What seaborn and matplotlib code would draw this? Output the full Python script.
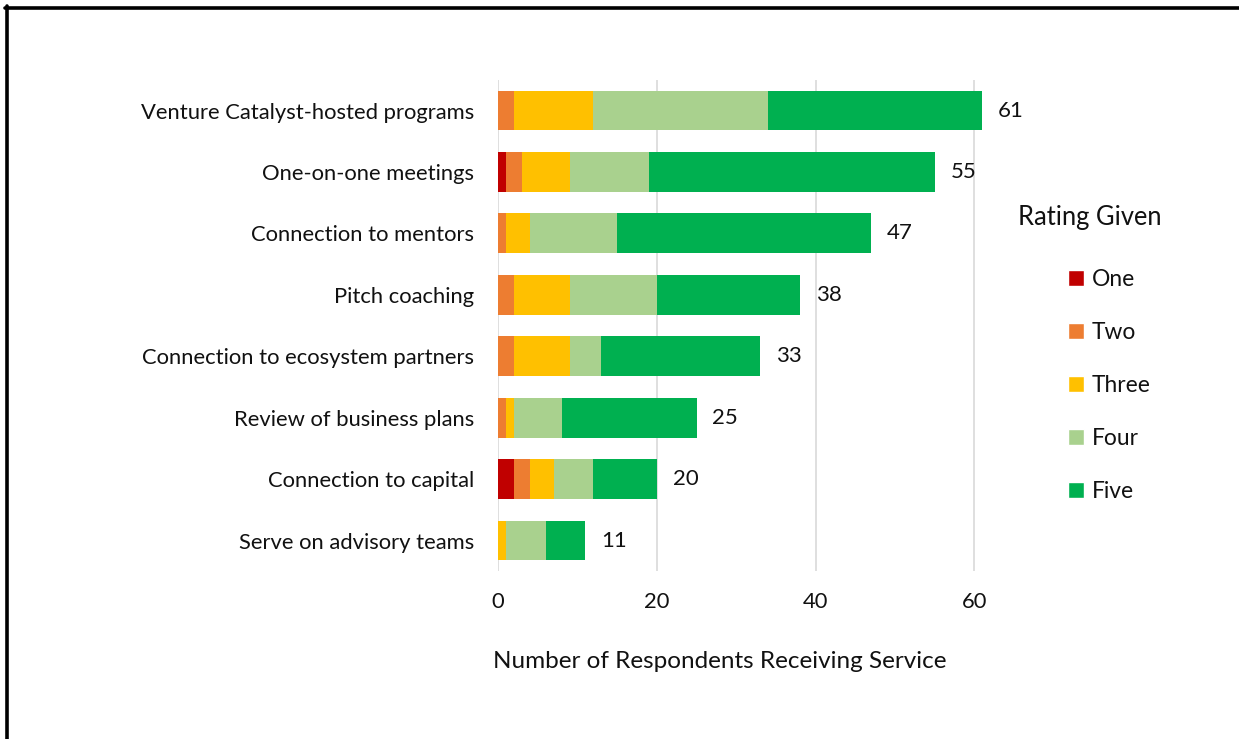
import numpy as np
import pandas as pd
import matplotlib.pyplot as plt
import seaborn as sns
from matplotlib.patches import Patch
from matplotlib.lines import Line2D

# services and ratings
services = ["Venture Catalyst-hosted programs", "One-on-one meetings",
            "Connection to mentors", "Pitch coaching",
            "Connection to ecosystem partners", "Review of business plans",
            "Connection to capital", "Serve on advisory teams"]
ratings = ["One", "Two", "Three", "Four", "Five"]
one = [0, 1, 0, 0, 0, 0, 2, 0]
two = [2, 2, 1, 2, 2, 1, 2, 0]
three = [10, 6, 3, 7, 7, 1, 3, 1]
four = [22, 10, 11, 11, 4, 6, 5, 5]
five = [27, 36, 32, 18, 20, 17, 8, 5]
colors = ["#C00000", "#ED7D31", "#FFC000", "#A9D18E", "#00B050"]

sns.set_style("whitegrid")
plt.rcParams["font.family"] = ["Lato", "DejaVu Sans"]

df = pd.DataFrame({"service": services, "One": one, "Two": two,
                   "Three": three, "Four": four, "Five": five})
cum = df[ratings].cumsum(axis=1)
totals = cum["Five"]

fig = plt.figure(figsize=(12.39, 7.39), dpi=100)
ax = fig.add_axes([0.402, 0.227, 0.41, 0.665])

# overlay cumulative bars from longest to shortest to get the stacking
for r, c in reversed(list(zip(ratings, colors))):
    sns.barplot(x=cum[r], y=df["service"], color=c, width=0.65,
                saturation=1, ax=ax, linewidth=0)

for i, t in enumerate(totals):
    ax.text(t + 2.0, i, str(t), va="center", ha="left", fontsize=16,
            color="#111111")

ax.set_xlim(0, 64)
ax.set_xticks([0, 20, 40, 60])
ax.set_ylabel("")
ax.set_xlabel("Number of Respondents Receiving Service", fontsize=17.5,
              color="#111111")
ax.xaxis.set_label_coords(0.437, -0.163)
ax.tick_params(axis="y", labelsize=15.8, length=0, pad=17, labelcolor="#111111")
ax.tick_params(axis="x", labelsize=15.8, length=0, pad=15, labelcolor="#111111")
ax.grid(axis="x", color="#d9d9d9", linewidth=1.2)
ax.grid(axis="y", visible=False)
for s in ax.spines.values():
    s.set_visible(False)

# legend title drawn on its own so the entries can sit further right
fig.text(1018 / 1239, 1 - 217 / 739, "Rating Given", fontsize=18.4,
         va="center", ha="left", color="#111111")
handles = [Patch(facecolor=c, label=r) for r, c in zip(ratings, colors)]
leg = fig.legend(handles=handles, loc="upper left",
                 bbox_to_anchor=(1068 / 1239, 1 - 269 / 739), frameon=False,
                 fontsize=16.4, handlelength=0.7, handleheight=0.7,
                 handletextpad=0.35, labelspacing=1.40, borderpad=0,
                 borderaxespad=0)
for t in leg.get_texts():
    t.set_color("#111111")

# frame lines at top and left as in the original
fig.add_artist(Line2D([5 / 1239, 1], [1 - 7.5 / 739] * 2, color="black",
                      linewidth=2.6, transform=fig.transFigure))
fig.add_artist(Line2D([6.5 / 1239] * 2, [0, 1 - 6 / 739], color="black",
                      linewidth=2.6, transform=fig.transFigure))

fig.savefig("out.png", dpi=100)
